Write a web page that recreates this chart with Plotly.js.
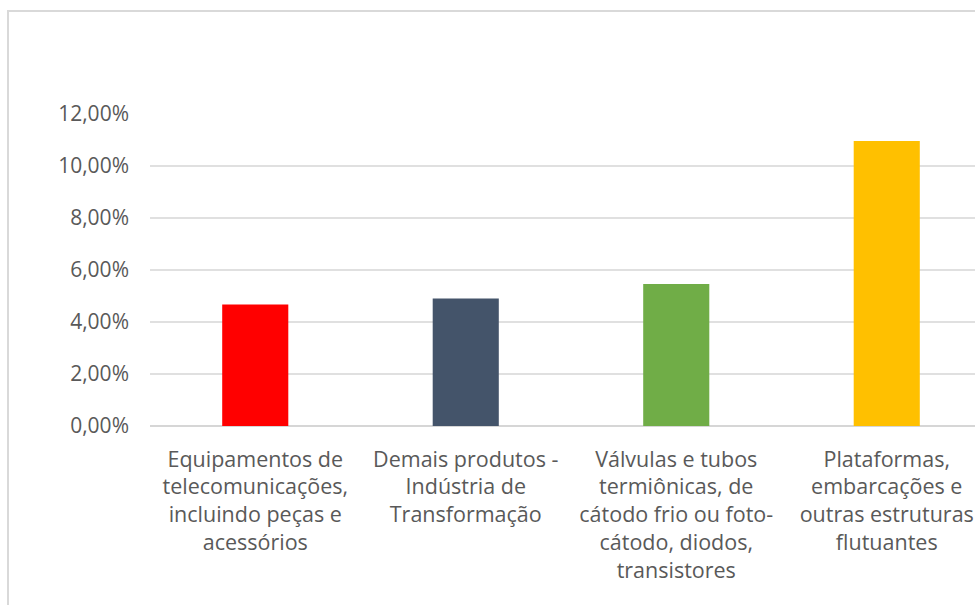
<!DOCTYPE html>
<html>
<head>
<meta charset="utf-8">
<script src="https://cdn.plot.ly/plotly-3.0.1.min.js"></script>
<style>
  html, body { margin: 0; padding: 0; overflow: hidden; background: #fff; }
  #wrap { position: absolute; left: 0; top: 0; width: 975px; height: 605px; overflow: hidden; }
  #frame { position: absolute; left: 7px; top: 10px; width: 1100px; height: 700px; border: 2px solid #d9d9d9; box-sizing: border-box; pointer-events: none; }
  #chart { position: absolute; left: 0; top: 0; }
</style>
</head>
<body>
<div id="wrap">
  <div id="chart"></div>
  <div id="frame"></div>
</div>
<script>
// Data
const categories = [
  "Equipamentos de telecomunicações, incluindo peças e acessórios",
  "Demais produtos - Indústria de Transformação",
  "Válvulas e tubos termiônicas, de cátodo frio ou foto-cátodo, diodos, transistores",
  "Plataformas, embarcações e outras estruturas flutuantes"
];
const tickLabels = [
  "Equipamentos de<br>telecomunicações,<br>incluindo peças e<br>acessórios",
  "Demais produtos -<br>Indústria de<br>Transformação",
  "Válvulas e tubos<br>termiônicas, de<br>cátodo frio ou foto-<br>cátodo, diodos,<br>transistores",
  "Plataformas,<br>embarcações e<br>outras estruturas<br>flutuantes"
];
const values = [0.0467, 0.0490, 0.0546, 0.1096];
const barColors = ["#FF0000", "#44546A", "#70AD47", "#FFC000"];

const trace = {
  type: "bar",
  x: categories,
  y: values,
  marker: { color: barColors },
  hoverinfo: "none"
};

const layout = {
  width: 1000,
  height: 620,
  margin: { l: 150, r: 8, t: 114, b: 194 },
  paper_bgcolor: "rgba(0,0,0,0)",
  plot_bgcolor: "#fff",
  separators: ",.",
  showlegend: false,
  bargap: 0.686,
  font: { family: "Open Sans, sans-serif", color: "#595959" },
  xaxis: {
    type: "category",
    tickmode: "array",
    tickvals: categories,
    ticktext: tickLabels,
    showgrid: false,
    zeroline: false,
    showline: false,
    ticks: "",
    ticklabelstandoff: 18,
    tickfont: { size: 21.5, color: "#595959" },
    tickangle: 0,
    fixedrange: true
  },
  yaxis: {
    range: [0, 0.12],
    dtick: 0.02,
    tick0: 0,
    tickformat: ".2%",
    showgrid: true,
    gridcolor: "#e0e0e0",
    gridwidth: 2,
    zeroline: true,
    zerolinecolor: "#d6d6d6",
    zerolinewidth: 2,
    showline: false,
    ticks: "",
    ticklabelstandoff: 20,
    tickfont: { size: 21, color: "#595959" },
    fixedrange: true
  }
};

Plotly.newPlot("chart", [trace], layout, { displayModeBar: false, staticPlot: true });
</script>
</body>
</html>
